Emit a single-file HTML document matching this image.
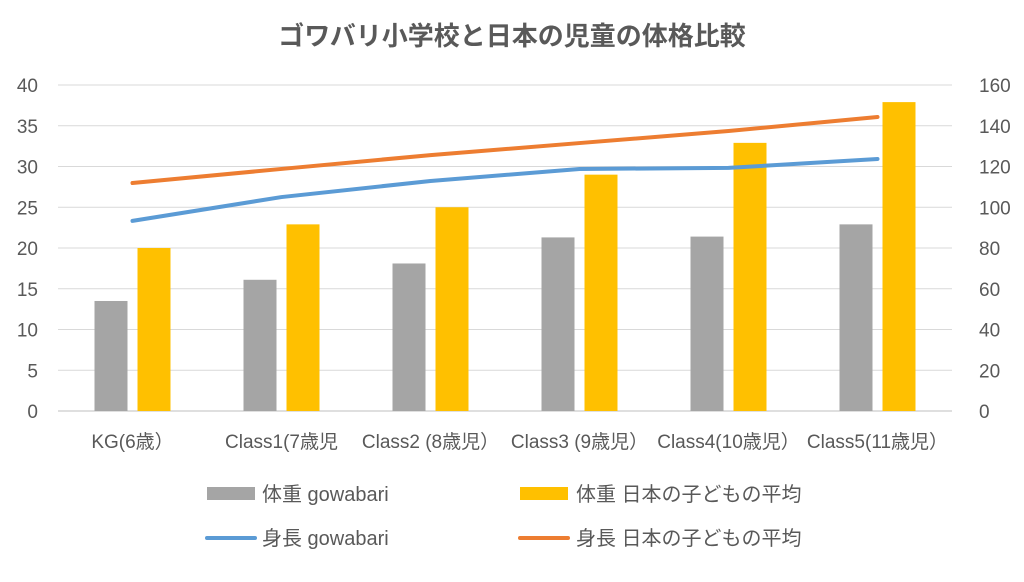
<!DOCTYPE html>
<html><head><meta charset="utf-8"><style>
body{margin:0;background:#fff;}
svg text{font-family:"Liberation Sans","Noto Sans CJK JP",sans-serif;fill:#595959;}
</style></head><body>
<svg id="chart" width="1024" height="577" xmlns="http://www.w3.org/2000/svg">
<rect width="1024" height="577" fill="#fff"/>
<text x="512" y="45" text-anchor="middle" font-size="26" font-weight="bold">ゴワバリ小学校と日本の児童の体格比較</text>
<g id="grid"></g><g id="bars"></g><g id="lines"></g><g id="axes"></g>
<g>
<rect x="207" y="487" width="48" height="13" fill="#a5a5a5"/>
<text x="262" y="501" font-size="20">体重 gowabari</text>
<rect x="520" y="487" width="48" height="13" fill="#ffc000"/>
<text x="576" y="501" font-size="20">体重 日本の子どもの平均</text>
<line x1="207" y1="538" x2="255" y2="538" stroke="#5b9bd5" stroke-width="4" stroke-linecap="round"/>
<text x="262" y="545" font-size="20">身長 gowabari</text>
<line x1="520" y1="538" x2="568" y2="538" stroke="#ed7d31" stroke-width="4" stroke-linecap="round"/>
<text x="576" y="545" font-size="20">身長 日本の子どもの平均</text>
</g>
</svg>
<script>
const categories=["KG(6歳）","Class1(7歳児","Class2 (8歳児）","Class3 (9歳児）","Class4(10歳児）","Class5(11歳児）"];
const weightGowabari=[13.5,16.1,18.1,21.3,21.4,22.9];
const weightJapan=[20,22.9,25,29,32.9,37.9];
const heightGowabari=[93.3,105,112.9,118.8,119.3,123.7];
const heightJapan=[111.9,118.8,125.6,131.5,137.4,144.3];
const leftTicks=[0,5,10,15,20,25,30,35,40];
const rightTicks=[0,20,40,60,80,100,120,140,160];

const NS="http://www.w3.org/2000/svg";
const X0=58,X1=952,Y0=411,Y1=85;
const band=(X1-X0)/categories.length;
const xc=i=>X0+band*(i+0.5);
const yL=v=>Y0-(v/40)*(Y0-Y1);
const yR=v=>Y0-(v/160)*(Y0-Y1);
function mk(tag,attrs,parent){const e=document.createElementNS(NS,tag);for(const k in attrs)e.setAttribute(k,attrs[k]);document.getElementById(parent).appendChild(e);return e;}

leftTicks.forEach((t,i)=>{
  const g=mk("line",{x1:X0,x2:X1,y1:yL(t),y2:yL(t),stroke:t===0?"#bfbfbf":"#d9d9d9","stroke-width":1},"grid");
  
  
  const tx=mk("text",{x:38,y:yL(t)+7,"text-anchor":"end","font-size":19},"axes");
  tx.textContent=t;
  
  
});
rightTicks.forEach(t=>{
  const tx=mk("text",{x:979,y:yR(t)+7,"text-anchor":"start","font-size":19},"axes");
  tx.textContent=t;
  
  
});
categories.forEach((c,i)=>{
  const tx=mk("text",{x:xc(i),y:448,"text-anchor":"middle","font-size":19},"axes");
  tx.textContent=c;
  
  
  const bw=33;
  const b1=mk("rect",{x:xc(i)-38,y:yL(weightGowabari[i]),width:bw,height:Y0-yL(weightGowabari[i]),fill:"#a5a5a5"},"bars");
  
  
  const b2=mk("rect",{x:xc(i)+5,y:yL(weightJapan[i]),width:bw,height:Y0-yL(weightJapan[i]),fill:"#ffc000"},"bars");
  
  
});
function line(data,color,name){
  const p=mk("polyline",{points:data.map((v,i)=>xc(i)+","+yR(v)).join(" "),fill:"none",stroke:color,"stroke-width":4,"stroke-linecap":"round","stroke-linejoin":"round"},"lines");
  
  
}
line(heightGowabari,"#5b9bd5","line-height-gowabari");
line(heightJapan,"#ed7d31","line-height-japan");
</script>
</body></html>
